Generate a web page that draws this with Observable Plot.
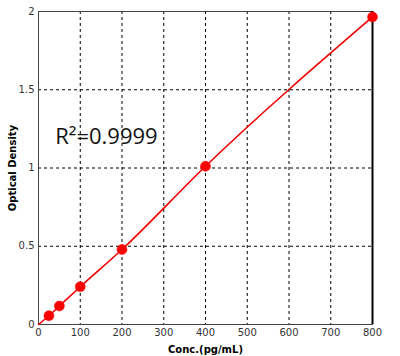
<!DOCTYPE html>
<html>
<head>
<meta charset="utf-8">
<script src="https://cdn.jsdelivr.net/npm/d3@7"></script>
<script src="https://cdn.jsdelivr.net/npm/@observablehq/plot@0.6"></script>
<style>
body{margin:0;background:#fff;}
#chart{width:400px;height:356px;}
</style>
</head>
<body>
<div id="chart"></div>
<script>
const conc = [0, 25, 50, 100, 200, 400, 800];
const od = [0, 0.056, 0.118, 0.241, 0.479, 1.011, 1.965];
const xTicks = [0, 100, 200, 300, 400, 500, 600, 700, 800];
const yTicks = [0, 0.5, 1, 1.5, 2];
const xGrid = [100, 200, 300, 400, 500, 600, 700];
const yGrid = [0.5, 1, 1.5];
const r2Label = "R\u00B2=0.9999";

const curve = conc.map((c, i) => ({c, v: od[i]}));
const pts = curve.filter(d => d.c > 0);

const chart = Plot.plot({
  width: 400,
  height: 356,
  marginLeft: 38,
  marginRight: 28,
  marginTop: 11,
  marginBottom: 32,
  style: {fontFamily: "DejaVu Sans, sans-serif", fontSize: "10px", color: "#333", background: "#fff"},
  x: {domain: [0, 800], ticks: xTicks, tickSize: 0, tickPadding: 4, label: "Conc.(pg/mL)", labelArrow: "none", labelAnchor: "center", labelOffset: 28},
  y: {domain: [0, 2], ticks: yTicks, tickSize: 0, tickPadding: 4, label: "Optical Density", labelArrow: "none", labelAnchor: "center", labelOffset: 30, tickFormat: d => String(d)},
  marks: [
    Plot.ruleX(xGrid, {stroke: "#000", strokeDasharray: "3,3", strokeWidth: 1}),
    Plot.ruleY(yGrid, {stroke: "#000", strokeDasharray: "3,3", strokeWidth: 1}),
    Plot.frame({stroke: "#444", strokeWidth: 1}),
    Plot.ruleX([800], {stroke: "#000", strokeWidth: 2}),
    Plot.line(curve, {x: "c", y: "v", stroke: "#ee0000", strokeWidth: 1.6, curve: "monotone-x"}),
    Plot.dot(pts, {x: "c", y: "v", symbol: "circle", r: 5, fill: "#ff0000", stroke: "#ff0000", strokeWidth: 0.5}),
    Plot.text([r2Label], {x: 40, y: 1.2, text: d => d, textAnchor: "start", fontSize: 22, fontFamily: "Open Sans, sans-serif", fill: "#111"})
  ]
});
document.getElementById("chart").appendChild(chart);
chart.querySelectorAll("g[aria-label='x-axis label'] text, g[aria-label='y-axis label'] text").forEach(t => {
  t.textContent = t.textContent.replace(/\s*[\u2190-\u2193]\s*/g, "");
  t.setAttribute("font-weight", "bold");
  t.setAttribute("fill", "#000");
});
</script>
</body>
</html>
